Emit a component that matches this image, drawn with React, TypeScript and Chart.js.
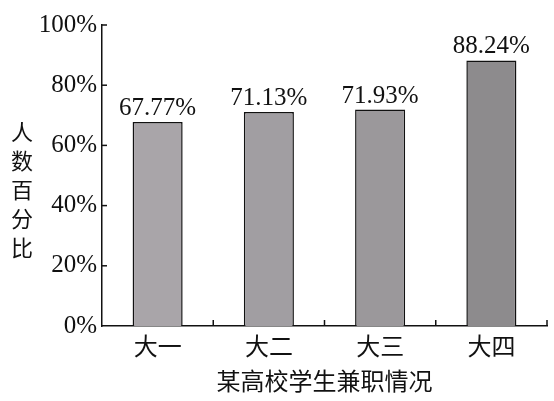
import React, { useEffect, useRef } from "react";
import { Chart, registerables } from "chart.js";

Chart.register(...registerables);

const categories = ["大一", "大二", "大三", "大四"];
const values = [67.77, 71.13, 71.93, 88.24];
const valueLabels = ["67.77%", "71.13%", "71.93%", "88.24%"];
const barColors = ["#a9a5a9", "#a19ea2", "#9b989b", "#8d8b8d"];
const yTicks = [0, 20, 40, 60, 80, 100];
const xTitle = "某高校学生兼职情况";
const yTitleChars = ["人", "数", "百", "分", "比"];

const SERIF = "'Liberation Serif', 'DejaVu Serif', serif";
const CJK = "'Noto Sans CJK SC', sans-serif";

const decorPlugin = {
  id: "decor",
  afterDraw(chart: any) {
    const ctx = chart.ctx;
    const xs = chart.scales.x;
    const ys = chart.scales.y;
    const area = chart.chartArea;
    ctx.save();
    ctx.strokeStyle = "#111";
    ctx.lineWidth = 1.5;
    // y ticks pointing inside
    yTicks.forEach((t) => {
      if (t === 0) return;
      const py = ys.getPixelForValue(t);
      ctx.beginPath();
      ctx.moveTo(area.left, py);
      ctx.lineTo(area.left + 5, py);
      ctx.stroke();
    });
    // x ticks at category boundaries pointing up
    const n = categories.length;
    for (let i = 0; i < n; i++) {
      const c = xs.getPixelForTick(i);
      const next = i < n - 1 ? xs.getPixelForTick(i + 1) : c + (c - xs.getPixelForTick(i - 1));
      const b = (c + next) / 2;
      ctx.beginPath();
      ctx.moveTo(b, area.bottom);
      ctx.lineTo(b, area.bottom - 6);
      ctx.stroke();
    }
    // value labels
    const meta = chart.getDatasetMeta(0);
    ctx.fillStyle = "#111";
    ctx.font = `25px ${SERIF}`;
    ctx.textAlign = "center";
    ctx.textBaseline = "bottom";
    meta.data.forEach((el: any, i: number) => {
      ctx.fillText(valueLabels[i], el.x, el.y - 1);
    });
    // vertical y title
    ctx.font = `22px ${CJK}`;
    ctx.textBaseline = "middle";
    const step = 29;
    const midY = 190;
    yTitleChars.forEach((ch, i) => {
      ctx.fillText(ch, 22, midY + (i - 2) * step);
    });
    ctx.restore();
  },
};

export default function App() {
  const ref = useRef<HTMLCanvasElement | null>(null);
  useEffect(() => {
    document.body.style.margin = "0";
    const chart = new Chart(ref.current as HTMLCanvasElement, {
      type: "bar",
      data: {
        labels: categories,
        datasets: [
          {
            data: values,
            backgroundColor: barColors,
            borderColor: "#111",
            borderWidth: 1.5,
            borderSkipped: "bottom",
            categoryPercentage: 0.45,
            barPercentage: 1,
          },
        ],
      },
      options: {
        animation: false,
        responsive: false,
        maintainAspectRatio: false,
        devicePixelRatio: 1,
        layout: { padding: { top: 25, right: 7, left: 0, bottom: 0 } },
        plugins: {
          legend: { display: false },
          tooltip: { enabled: false },
          title: { display: false },
        },
        scales: {
          x: {
            grid: { display: false, drawTicks: false },
            border: { display: true, color: "#111", width: 1.5 },
            ticks: {
              color: "#111",
              font: { family: CJK, size: 24 },
              padding: 5,
              maxRotation: 0,
            },
            title: {
              display: true,
              text: xTitle,
              color: "#111",
              font: { family: CJK, size: 24 },
              padding: { top: 0, bottom: 6 },
            },
            afterFit: (s: any) => {
              s.height = 75;
            },
          },
          y: {
            min: 0,
            max: 100,
            grid: { display: false, drawTicks: false },
            border: { display: true, color: "#111", width: 1.5 },
            ticks: {
              stepSize: 20,
              color: "#111",
              font: { family: SERIF, size: 25 },
              padding: 5,
              callback: (v: any) => `${v}%`,
            },
            afterFit: (s: any) => {
              s.width = 102;
            },
          },
        },
      },
      plugins: [decorPlugin],
    });
    return () => chart.destroy();
  }, []);
  return (
    <div style={{ position: "absolute", left: 0, top: 0, width: 554, height: 401, background: "#fff" }}>
      <canvas ref={ref} width={554} height={401} />
    </div>
  );
}
